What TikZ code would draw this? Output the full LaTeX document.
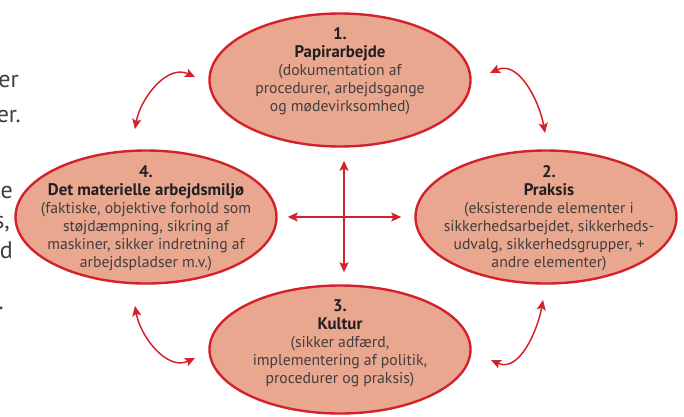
\documentclass[tikz,border=0pt]{standalone}
\usepackage{fontspec}
\setmainfont{PT Sans}
\usetikzlibrary{shapes.geometric,arrows.meta}
\definecolor{rim}{RGB}{212,34,44}
\definecolor{blob}{RGB}{233,167,143}
\definecolor{ink}{RGB}{66,62,62}
\definecolor{inkb}{RGB}{35,31,32}
\tikzset{
  bubble/.style={ellipse, draw=rim, fill=blob, line width=2.4pt, minimum width=261pt, minimum height=133pt, inner sep=0pt},
  txt/.style={align=center, text=ink, font=\fontsize{15.7}{18}\selectfont},
  dbl/.style={draw=rim, line width=1.5pt, {Stealth[length=10pt,width=9pt,inset=2pt]}-{Stealth[length=10pt,width=9pt,inset=2pt]}},
  frag/.style={anchor=base east, text=ink, font=\fontsize{24}{30}\selectfont, inner sep=0pt},
}
\newcommand{\hdline}[1]{{\fontsize{16.8}{18}\selectfont\bfseries\color{inkb}#1}}
\begin{document}
\begin{tikzpicture}[x=1pt,y=1pt]
\path[use as bounding box, clip] (0,0) rectangle (684,416);
% cut-off fragments of surrounding text
\node[frag] (f1) at (19,329) {er};
\node[frag] (f2) at (21,294) {er.};
\node[frag] (f3) at (13,218) {e};
\node[frag] (f4) at (10,188) {s,};
\node[frag] (f5) at (13,158) {d};
\node[frag] (f6) at (4,107) {.};
% ellipses
\node[bubble] (p1) at (340,336) {};
\node[bubble] (p2) at (546,199) {};
\node[bubble] (p4) at (146,199) {};
\node[bubble, minimum height=128pt] (p3) at (340,66.5) {};
% texts
\node[txt] (t1) at ([yshift=9pt]p1.center) {\hdline{1.}\\\hdline{Papirarbejde}\\(dokumentation af\\procedurer, arbejdsgange\\og mødevirksomhed)};
\node[txt] (t2) at ([xshift=3pt,yshift=-1.5pt]p2.center) {\hdline{2.}\\\hdline{Praksis}\\(eksisterende elementer i\\sikkerhedsarbejdet, sikkerheds-\\udvalg, sikkerhedsgrupper, +\\andre elementer)};
\node[txt] (t4) at ([yshift=-1.5pt]p4.center) {\hdline{4.}\\\hdline{Det materielle arbejdsmiljø}\\(faktiske, objektive forhold som\\støjdæmpning, sikring af\\maskiner, sikker indretning af\\arbejdspladser m.v.)};
\node[txt] (t3) at ([yshift=6pt]p3.center) {\hdline{3.}\\\hdline{Kultur}\\(sikker adfærd,\\implementering af politik,\\procedurer og praksis)};
% cross arrows
\draw[dbl] ([xshift=4pt,yshift=-13pt]p1.south) -- ([xshift=4pt,yshift=12pt]p3.north);
\draw[dbl] ([xshift=10pt]p4.east) -- ([xshift=-13pt]p2.west);
% curved arrows endpoints
\coordinate (a1) at (195,339);
\coordinate (b1) at (135,287);
\coordinate (a2) at (490,343);
\coordinate (b2) at (545,283);
\coordinate (a3) at (491,56);
\coordinate (b3) at (543,116);
\coordinate (a4) at (195,58);
\coordinate (b4) at (135,110);
\draw[dbl] (a1) to[out=155,in=80] (b1);
\draw[dbl] (a2) to[out=25,in=100] (b2);
\draw[dbl] (a3) to[out=-25,in=-100] (b3);
\draw[dbl] (a4) to[out=-155,in=-80] (b4);
\end{tikzpicture}
\end{document}
